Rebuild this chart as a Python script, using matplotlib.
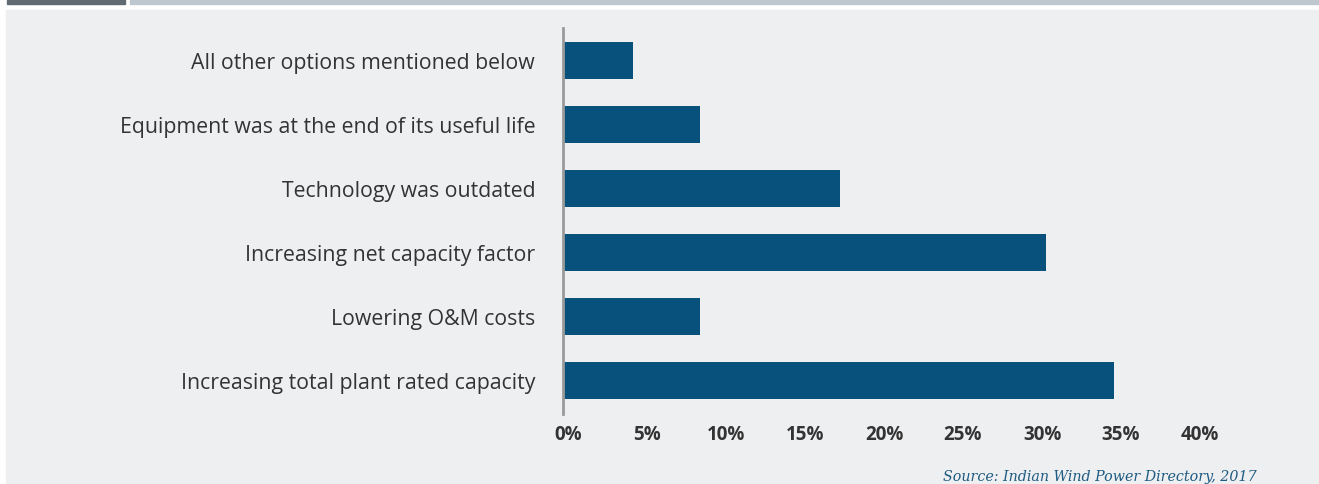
import matplotlib.pyplot as plt
import matplotlib.transforms as mtransforms
from matplotlib.patches import Rectangle

reasons = [
    "All other options mentioned below",
    "Equipment was at the end of its useful life",
    "Technology was outdated",
    "Increasing net capacity factor",
    "Lowering O&M costs",
    "Increasing total plant rated capacity",
]
shares = [4.4, 8.7, 17.5, 30.6, 8.7, 34.9]
tick_vals = [0, 5, 10, 15, 20, 25, 30, 35, 40]
tick_labels = [f"{v}%" for v in tick_vals]
source = "Source: Indian Wind Power Directory, 2017"

W, H = 1319, 484
fig = plt.figure(figsize=(W / 100, H / 100), dpi=100)
fig.patch.set_facecolor("white")

# page decoration: grey panel + header strips
panel = "#EEEFF1"
fig.patches.append(Rectangle((6 / W, 0), 1 - 6 / W, 1 - 10 / H,
                             transform=fig.transFigure, color=panel, zorder=-5))
fig.patches.append(Rectangle((7 / W, 1 - 4 / H), 118 / W, 4 / H,
                             transform=fig.transFigure, color="#5F6A73", zorder=-5))
fig.patches.append(Rectangle((130 / W, 1 - 4 / H), 1 - 130 / W, 4 / H,
                             transform=fig.transFigure, color="#BDC7CD", zorder=-5))

# axes: x from 563 px to 1195 px, y from 28 to 414 px
left, right = 563 / W, 1195 / W
top, bottom = 1 - 28 / H, 1 - 414 / H
ax = fig.add_axes([left, bottom, right - left, top - bottom])
ax.set_facecolor("none")

ypos = list(range(len(reasons)))
ax.barh(ypos, shares, height=0.58, color="#08517D", zorder=2)

ax.set_xlim(0, 40)
ax.set_ylim(5.52, -0.51)
ax.set_yticks(ypos)
ax.set_yticklabels(reasons, fontsize=15.3, color="#333333", family="Open Sans")
ax.set_xticks(tick_vals)
ax.set_xticklabels(tick_labels, fontsize=13.5, fontweight="bold",
                   color="#333333", family="Open Sans")
ax.tick_params(axis="both", length=0)
ax.tick_params(axis="y", pad=20)
ax.tick_params(axis="x", pad=8)
shift = mtransforms.ScaledTranslation(5 / 100, 0, fig.dpi_scale_trans)
for lbl in ax.get_xticklabels():
    lbl.set_transform(lbl.get_transform() + shift)

for side in ["top", "right", "bottom"]:
    ax.spines[side].set_visible(False)
ax.spines["left"].set_color("#9A9A9A")
ax.spines["left"].set_linewidth(2)

fig.text(943 / W, 3 / H, source, fontsize=10.3, style="italic",
         family="DejaVu Serif", color="#1E5B82", ha="left", va="baseline")

fig.savefig("out.png", dpi=100, facecolor=fig.get_facecolor())
